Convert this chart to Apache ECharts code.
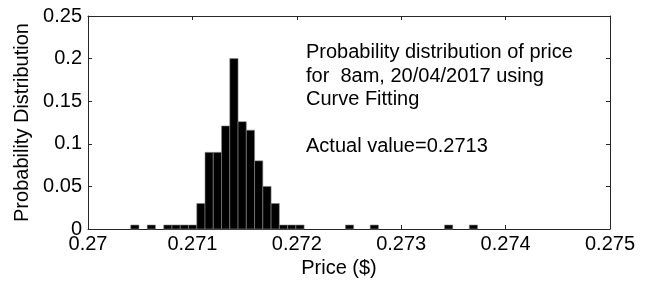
<!DOCTYPE html>
<html>
<head>
<meta charset="utf-8">
<script src="https://cdn.jsdelivr.net/npm/echarts@6/dist/echarts.min.js"></script>
<style>
  html, body { margin: 0; padding: 0; background: #fff; }
  #chart { width: 653px; height: 286px; }
</style>
</head>
<body>
<div id="chart"></div>
<script>
// histogram bins (uniform width)
const binStart = 0.270409;
const binWidth = 0.0000791;
const probs = [
    0.0047, 0, 0.0047, 0, 0.0047, 0.0047, 0.0047, 0.0047,
    0.030, 0.090, 0.090, 0.121, 0.200, 0.126, 0.116, 0.080, 0.050, 0.030,
    0.0047, 0.0047, 0.0047, 0, 0, 0, 0, 0, 0.0047, 0, 0, 0.0047,
    0, 0, 0, 0, 0, 0, 0, 0, 0.0047, 0, 0, 0.0047
];
const noteLines = [
    'Probability distribution of price',
    'for  8am, 20/04/2017 using',
    'Curve Fitting',
    '',
    'Actual value=0.2713'
];

const FONT = '"Liberation Sans", Arial, sans-serif';
const AXIS_COLOR = '#262626';

// 每个柱子: [左边, 右边, 概率]
const bars = [];
probs.forEach((p, i) => {
    if (p > 0) bars.push([binStart + i * binWidth, binStart + (i + 1) * binWidth, p]);
});

const chart = echarts.init(document.getElementById('chart'));

const frameAxis = {
    axisLine: { show: true, onZero: false, lineStyle: { color: AXIS_COLOR, width: 1 } },
    axisTick: { show: true, inside: true, length: 4, lineStyle: { color: AXIS_COLOR } },
    splitLine: { show: false }
};

chart.setOption({
    animation: false,
    textStyle: { fontFamily: FONT },
    grid: { left: 88, right: 43, top: 16, bottom: 57 },
    xAxis: [{
        type: 'value',
        min: 0.27, max: 0.275, interval: 0.001,
        ...frameAxis,
        axisLabel: {
            color: '#000', fontSize: 20, fontFamily: FONT, margin: 5,
            showMinLabel: true, showMaxLabel: true,
            formatter: v => String(+v.toFixed(3))
        },
        name: 'Price ($)',
        nameLocation: 'middle',
        nameGap: 28,
        nameTextStyle: { color: '#000', fontSize: 20, fontFamily: FONT, padding: [0, 20, 0, 0] }
    }, {
        type: 'value', position: 'top',
        min: 0.27, max: 0.275, interval: 0.001,
        ...frameAxis,
        axisLabel: { show: false }
    }],
    yAxis: [{
        type: 'value',
        min: 0, max: 0.25, interval: 0.05,
        ...frameAxis,
        axisLabel: { color: '#000', fontSize: 20, fontFamily: FONT, margin: 6 },
        name: 'Probability Distribution',
        nameLocation: 'middle',
        nameGap: 52,
        nameTextStyle: { color: '#000', fontSize: 20, fontFamily: FONT }
    }, {
        type: 'value', position: 'right',
        min: 0, max: 0.25, interval: 0.05,
        ...frameAxis,
        axisLabel: { show: false }
    }],
    graphic: [{
        type: 'text',
        left: 306, top: 41,
        style: {
            text: noteLines.join('\n'),
            font: '20px ' + FONT,
            fill: '#000',
            lineHeight: 23.5
        }
    }],
    series: [{
        type: 'custom',
        xAxisIndex: 0, yAxisIndex: 0,
        data: bars,
        encode: { x: [0, 1], y: 2 },
        renderItem: function (params, api) {
            const p0 = api.coord([api.value(0), api.value(2)]);
            const p1 = api.coord([api.value(1), 0]);
            return {
                type: 'rect',
                shape: { x: p0[0], y: p0[1], width: p1[0] - p0[0], height: p1[1] - p0[1] },
                style: { fill: '#000', stroke: '#8a8a8a', lineWidth: 0.6 }
            };
        }
    }]
});
</script>
</body>
</html>
